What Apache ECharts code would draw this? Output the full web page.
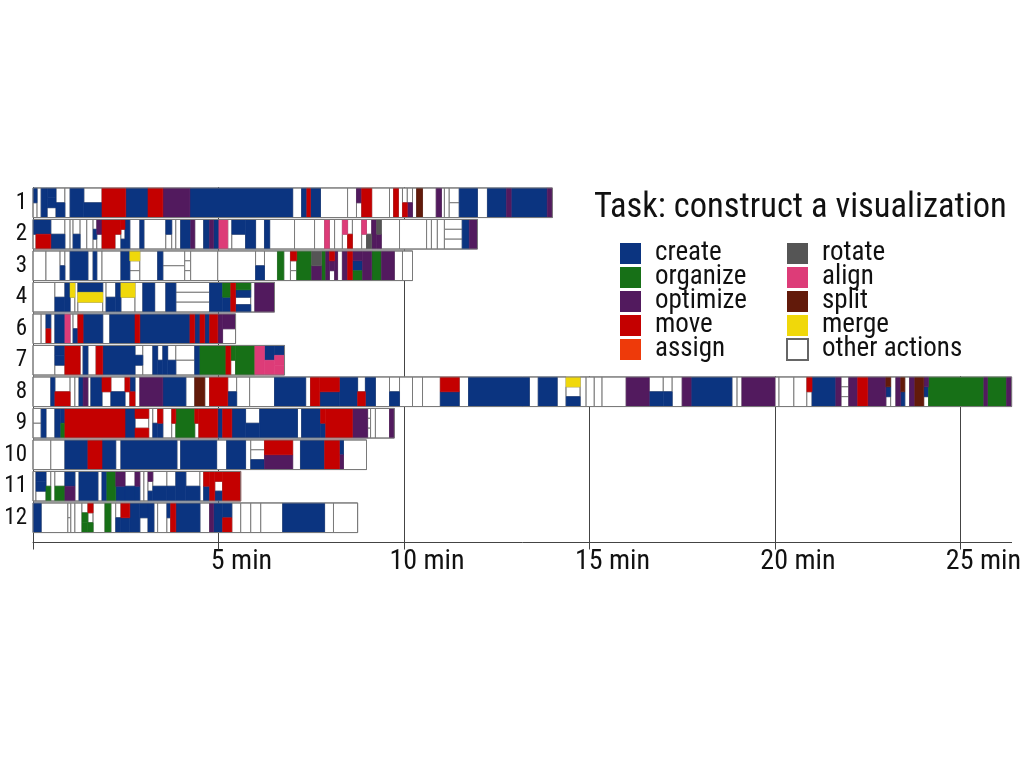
<!DOCTYPE html>
<html><head><meta charset="utf-8">
<script src="https://cdn.jsdelivr.net/npm/echarts@6/dist/echarts.min.js"></script>
<style>html,body{margin:0;padding:0;background:#fff}#c{width:1024px;height:768px}</style>
</head><body><div id="c"></div>
<script>
// ---- data ----
const rowLabels = ['1','2','3','4','6','7','8','9','10','11','12'];
const categoryNames = ['create','organize','optimize','move','assign','rotate','align','split','merge','other actions'];
const categoryCodes = ['c','o','p','m','a','r','l','s','g','w'];
const categoryColors = ['#0b3480','#177017','#521a5e','#c40000','#ee3a0a','#555555','#dd3c78','#621a0a','#f0d80a','#ffffff'];
const timeTicks = [5, 10, 15, 20, 25];
const timeMax = 26.38;
// each row: [segment end (min), stacked action codes top/bottom]
const row1 = [[0.11,'c/w'],[0.22,'w'],[0.38,'c'],[0.62,'c/c/w'],[0.86,'w/c'],[1.00,'w'],[1.37,'c'],[1.86,'w/c'],[2.50,'m'],[3.10,'c'],[3.50,'m'],[4.23,'p'],[7.00,'c'],[7.24,'w'],[7.38,'c'],[7.48,'m'],[7.75,'c'],[8.48,'w'],[8.72,'w'],[8.86,'p/w'],[9.13,'m'],[9.61,'w'],[9.72,'w'],[9.85,'m'],[9.96,'w'],[10.09,'w/m'],[10.23,'w/p'],[10.34,'w'],[10.50,'s'],[10.87,'w'],[11.01,'p'],[11.09,'w'],[11.22,'w'],[11.49,'w/w'],[11.98,'c'],[12.25,'w'],[12.76,'c'],[12.89,'p'],[13.86,'c'],[14.00,'p']];
const row2 = [[0.08,'c/w'],[0.48,'c/m'],[0.86,'w/c'],[1.00,'w'],[1.08,'w'],[1.27,'w/c'],[1.45,'w'],[1.62,'w'],[1.72,'w/c/w'],[1.86,'p/w'],[2.21,'m'],[2.37,'m/w'],[2.48,'m/w/c'],[2.61,'c'],[2.88,'w'],[2.99,'c'],[3.58,'w'],[3.74,'c/w'],[3.85,'w'],[3.98,'w'],[4.25,'c'],[4.36,'p'],[4.60,'w'],[4.76,'c'],[4.87,'p'],[5.01,'c'],[5.25,'l'],[5.36,'w'],[5.73,'c/w'],[6.00,'c'],[6.24,'w'],[6.38,'c'],[7.05,'w'],[7.59,'w'],[7.86,'w'],[7.99,'l'],[8.13,'w'],[8.34,'w'],[8.48,'l/w'],[8.61,'w/m'],[8.86,'w'],[8.99,'l/w'],[9.13,'w/r'],[9.26,'p'],[9.39,'r/p'],[9.88,'w'],[10.61,'w'],[10.74,'w'],[10.90,'w'],[11.09,'w'],[11.57,'w/w/w'],[11.76,'c'],[11.98,'p']];
const row3 = [[0.35,'w'],[0.73,'w'],[0.86,'w/c'],[1.00,'w'],[1.48,'c'],[1.62,'w'],[1.72,'c'],[1.86,'w'],[2.37,'w'],[2.61,'c'],[2.88,'g/w/w'],[3.36,'w'],[3.50,'c'],[4.09,'w/w'],[4.25,'w/w/w'],[4.98,'w'],[6.00,'w'],[6.24,'w/c'],[6.59,'w'],[6.76,'o'],[6.94,'w'],[7.11,'m/w/w'],[7.51,'o'],[7.78,'r/p'],[7.89,'o'],[7.99,'p'],[8.13,'m/p/w'],[8.21,'p'],[8.34,'w'],[8.48,'p'],[8.61,'m'],[8.88,'p/c/o'],[9.13,'p'],[9.39,'o'],[9.74,'p'],[9.96,'w'],[10.23,'w']];
const row4 = [[0.59,'w'],[0.86,'w/c'],[1.00,'c'],[1.13,'g/w'],[1.21,'w'],[1.88,'c/g/w'],[1.97,'w'],[2.23,'w/c'],[2.37,'c'],[2.75,'g/w'],[2.96,'w'],[3.28,'c'],[3.58,'w'],[3.85,'c'],[4.76,'w/w/w'],[5.11,'c'],[5.33,'o/c'],[5.46,'m'],[5.87,'o/c/w/c'],[5.98,'w'],[6.51,'p']];
const row6 = [[0.22,'w'],[0.35,'w'],[0.48,'c/m'],[0.59,'w'],[0.86,'c'],[1.00,'l'],[1.08,'w'],[1.21,'w/c'],[1.35,'m'],[1.88,'c'],[2.07,'w'],[2.75,'c'],[2.88,'m'],[4.23,'c'],[4.36,'m'],[4.50,'c'],[4.63,'m'],[4.76,'c'],[4.98,'m'],[5.11,'p'],[5.46,'p/w']];
const row7 = [[0.59,'w'],[0.86,'c/c/w'],[1.27,'m'],[1.35,'w'],[1.48,'c'],[1.70,'w'],[1.88,'m'],[2.75,'c'],[2.96,'w/c/w'],[3.23,'w'],[3.36,'c'],[3.50,'w/c'],[3.63,'c'],[3.85,'w/c'],[4.36,'w/w'],[4.50,'c'],[5.20,'o'],[5.33,'m'],[5.46,'o/w'],[5.98,'o'],[6.24,'l'],[6.51,'c/l'],[6.78,'c/l/l']];
const row8 = [[0.48,'w'],[0.59,'c'],[1.00,'w/m'],[1.13,'w'],[1.24,'w'],[1.35,'c'],[1.48,'p'],[1.56,'w'],[1.86,'c'],[2.10,'m/w'],[2.48,'w/c'],[2.61,'m/w'],[2.75,'c/m'],[2.88,'w'],[3.50,'p'],[4.12,'c'],[4.36,'w'],[4.63,'s'],[4.76,'w'],[5.25,'m'],[5.49,'w/c'],[5.84,'w'],[6.51,'w'],[7.35,'c'],[7.48,'w'],[7.73,'m'],[8.26,'m/c'],[8.75,'c'],[8.96,'w/m'],[9.23,'c'],[9.61,'w'],[9.88,'w/c'],[10.23,'w'],[10.50,'w'],[10.98,'w'],[11.49,'m/c'],[11.74,'w'],[13.38,'c'],[13.62,'w'],[14.13,'c'],[14.37,'w'],[14.75,'g/w/c'],[14.91,'w'],[15.13,'w'],[15.34,'w'],[15.99,'w'],[16.61,'p'],[16.99,'w/c'],[17.23,'w/c'],[17.50,'w'],[17.74,'p'],[18.84,'c'],[18.98,'w'],[19.11,'w'],[20.00,'p'],[20.11,'w'],[20.51,'w'],[20.86,'w'],[21.00,'m/w'],[21.64,'c'],[21.78,'p'],[21.99,'w/w/w'],[22.23,'p'],[22.50,'m'],[22.99,'p'],[23.12,'s/c/w'],[23.26,'w'],[23.39,'p'],[23.50,'s/c'],[23.63,'w'],[23.77,'p'],[24.01,'s'],[24.14,'p/c/w'],[25.63,'o'],[25.73,'p'],[26.24,'o'],[26.38,'p']];
const row9 = [[0.22,'w/w'],[0.35,'c'],[0.59,'w'],[0.75,'c'],[0.86,'c/o'],[2.48,'m'],[2.75,'c'],[3.12,'m/w/m'],[3.23,'w'],[3.36,'w/c'],[3.50,'m/c'],[3.74,'w'],[3.85,'m/w'],[4.36,'o'],[4.47,'m/w'],[4.98,'m'],[5.11,'c'],[5.36,'m'],[5.73,'c'],[6.11,'w/c'],[7.13,'c'],[7.24,'w'],[7.75,'c'],[7.89,'m/c'],[8.61,'m'],[9.02,'p'],[9.10,'w/w/w'],[9.23,'w'],[9.61,'w'],[9.74,'p']];
const row10 = [[0.48,'w'],[0.86,'w'],[1.48,'c'],[1.86,'m'],[2.23,'c'],[2.37,'w'],[3.88,'c'],[3.98,'w'],[4.95,'c'],[5.22,'w'],[5.73,'c'],[5.87,'w'],[6.24,'w/w/c'],[7.00,'m/p'],[7.21,'w'],[7.86,'c'],[8.26,'m'],[8.37,'c/p'],[8.99,'w']];
const row11 = [[0.08,'w'],[0.35,'c/c/w'],[0.48,'w/o'],[0.59,'w'],[0.86,'w/o'],[1.13,'c/p'],[1.24,'w'],[1.75,'c'],[1.86,'w'],[1.99,'c'],[2.23,'o'],[2.48,'p/c'],[2.75,'w/c'],[2.88,'p/c'],[2.99,'w'],[3.10,'w'],[3.23,'p/w/c'],[3.61,'w/c'],[3.85,'w/c'],[4.12,'c'],[4.50,'w/c'],[4.60,'w'],[4.76,'m/c'],[4.90,'m'],[5.11,'m/w/c'],[5.60,'m']];
const row12 = [[0.22,'c'],[0.94,'w'],[1.02,'w/w'],[1.13,'w'],[1.32,'w'],[1.48,'w/o/o'],[1.62,'m/w/o'],[1.94,'w'],[2.10,'o'],[2.23,'w'],[2.37,'w/c'],[2.61,'m/c'],[2.88,'c'],[3.10,'c/w'],[3.26,'c'],[3.36,'w'],[3.61,'w'],[3.71,'c/w'],[3.85,'m'],[4.50,'c'],[4.76,'w'],[4.87,'p'],[5.11,'c'],[5.36,'c/m'],[5.60,'w'],[5.87,'w'],[6.14,'w'],[6.73,'w'],[7.86,'c'],[8.10,'w'],[8.75,'w']];
const rows = [row1,row2,row3,row4,row6,row7,row8,row9,row10,row11,row12];

// ---- build ----
const FONT = "'Roboto Condensed','Liberation Sans Narrow','DejaVu Sans Condensed',sans-serif";
const cellsByCode = {};
categoryCodes.forEach(c => cellsByCode[c] = []);
const rowExtents = [];
rows.forEach((segs, r) => {
  let prev = 0;
  segs.forEach(([end, pat]) => {
    const parts = pat.split('/');
    parts.forEach((code, k) => cellsByCode[code].push([prev, end, r, k, parts.length]));
    prev = end;
  });
  rowExtents.push([0, prev, r]);
});
const lastRow = rows.length - 1;
const gridLineData = [0].concat(timeTicks).map(t => {
  let top = rows.findIndex(segs => segs[segs.length - 1][0] > t);
  if (top < 0) top = lastRow;
  return [t, top, lastRow];
});
const AXIS_OFFSET = 9;
const FILL = 0.94;

function makeCellRenderer(color, isWhite) {
  return function (params, api) {
    const t0 = api.value(0), t1 = api.value(1), r = api.value(2), k = api.value(3), n = api.value(4);
    const p0 = api.coord([t0, r]), p1 = api.coord([t1, r]);
    const band = api.size([0, 1])[1];
    const h = band * FILL;
    const y = p0[1] - h / 2 + h * k / n;
    return {
      type: 'rect',
      shape: { x: p0[0], y: y, width: p1[0] - p0[0], height: h / n },
      style: isWhite ? { fill: '#fff', stroke: '#7a7a7a', lineWidth: 1 }
                     : { fill: color, stroke: color, lineWidth: 0.6 }
    };
  };
}

const series = [];
series.push({
  type: 'custom', name: 'grid', silent: true, z: 1,
  data: gridLineData,
  encode: { x: 0, y: 1 },
  renderItem: function (params, api) {
    const t = api.value(0), top = api.value(1), last = api.value(2);
    const band = api.size([0, 1])[1];
    const pTop = api.coord([t, top]), pBot = api.coord([t, last]);
    const x = Math.round(pTop[0]) + 0.5;
    return { type: 'line', shape: { x1: x, y1: pTop[1] - band / 2, x2: x, y2: pBot[1] + band / 2 + AXIS_OFFSET + 7 },
             style: { stroke: '#444', lineWidth: 1 } };
  }
});
categoryCodes.forEach((code, i) => {
  const isWhite = code === 'w';
  series.push({
    type: 'custom', name: categoryNames[i], z: isWhite ? 2 : 3,
    itemStyle: isWhite ? { color: '#ffffff', borderColor: '#666', borderWidth: 1 } : { color: categoryColors[i] },
    data: cellsByCode[code],
    encode: { x: [0, 1], y: 2 },
    renderItem: makeCellRenderer(categoryColors[i], isWhite)
  });
});
series.push({
  type: 'custom', name: 'outline', silent: true, z: 4,
  data: rowExtents,
  encode: { x: [0, 1], y: 2 },
  renderItem: function (params, api) {
    const p0 = api.coord([api.value(0), api.value(2)]), p1 = api.coord([api.value(1), api.value(2)]);
    const h = api.size([0, 1])[1] * FILL;
    return { type: 'rect', shape: { x: p0[0], y: p0[1] - h / 2, width: p1[0] - p0[0], height: h },
             style: { fill: 'none', stroke: '#7a7a7a', lineWidth: 1 } };
  }
});

const legendBase = {
  orient: 'vertical', itemWidth: 21, itemHeight: 21, itemGap: -3, icon: 'rect',
  selectedMode: false, padding: 0,
  textStyle: { fontSize: 27, fontFamily: FONT, color: '#111', padding: [0, 0, 0, 9] }
};

const chart = echarts.init(document.getElementById('c'), null, { renderer: 'canvas' });
chart.setOption({
  animation: false,
  backgroundColor: '#fff',
  title: { text: 'Task: construct a visualization', left: 589, top: 186,
           textStyle: { fontSize: 34.5, fontWeight: 'normal', fontFamily: FONT, color: '#111' } },
  legend: [
    Object.assign({}, legendBase, { left: 620, top: 240, data: categoryNames.slice(0, 5) }),
    Object.assign({}, legendBase, { left: 786, top: 240, data: categoryNames.slice(5) })
  ],
  grid: { left: 33, right: 11, top: 187, height: 346.5, containLabel: false },
  xAxis: {
    type: 'value', min: 0, max: timeMax, interval: 5, offset: AXIS_OFFSET,
    splitLine: { show: false }, axisTick: { show: false },
    axisLine: { show: true, lineStyle: { color: '#444', width: 1 } },
    axisLabel: {
      showMaxLabel: false, margin: 5,
      formatter: v => timeTicks.indexOf(v) >= 0 ? '{sp| }{t|' + v + ' min}' : '',
      rich: { sp: { width: 46 }, t: { fontSize: 28, fontFamily: FONT, color: '#111' } }
    }
  },
  yAxis: {
    type: 'category', data: rowLabels, inverse: true,
    axisLine: { show: false }, axisTick: { show: false },
    axisLabel: { fontSize: 23, fontFamily: FONT, color: '#111', margin: 6 }
  },
  series: series
});
</script></body></html>
